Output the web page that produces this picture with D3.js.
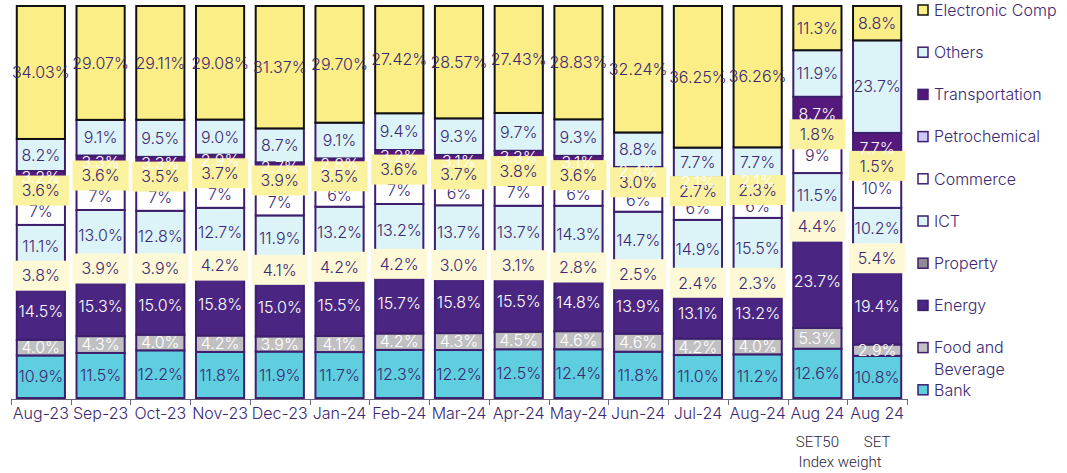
<!DOCTYPE html>
<html>
<head>
<meta charset="utf-8">
<script src="https://cdn.jsdelivr.net/npm/d3@7"></script>
<style>
  body { margin: 0; background: #fff; }
  svg { display: block; font-family: Inter, "Noto Sans", sans-serif; font-weight: 300; }
</style>
</head>
<body>
<svg id="chart" width="1067" height="473"></svg>
<script>
// sector weights per column, in %
const categories = ['Aug-23', 'Sep-23', 'Oct-23', 'Nov-23', 'Dec-23', 'Jan-24', 'Feb-24',
  'Mar-24', 'Apr-24', 'May-24', 'Jun-24', 'Jul-24', 'Aug-24', 'Aug 24 SET50', 'Aug 24 SET'];
const tickLabels = [['Aug-23'], ['Sep-23'], ['Oct-23'], ['Nov-23'], ['Dec-23'], ['Jan-24'], ['Feb-24'],
  ['Mar-24'], ['Apr-24'], ['May-24'], ['Jun-24'], ['Jul-24'], ['Aug-24'], ['Aug 24', 'SET50'], ['Aug 24', 'SET']];
const indexCols = ['Aug 24 SET50', 'Aug 24 SET'];
const footNote = 'Index weight';

const bank           = [10.9, 11.5, 12.2, 11.8, 11.9, 11.7, 12.3, 12.2, 12.5, 12.4, 11.8, 11.0, 11.2, 12.6, 10.8];
const foodBeverage   = [4.0, 4.3, 4.0, 4.2, 3.9, 4.1, 4.2, 4.3, 4.5, 4.6, 4.6, 4.2, 4.0, 5.3, 2.9];
const energy         = [14.5, 15.3, 15.0, 15.8, 15.0, 15.5, 15.7, 15.8, 15.5, 14.8, 13.9, 13.1, 13.2, 23.7, 19.4];
const property       = [3.8, 3.9, 3.9, 4.2, 4.1, 4.2, 4.2, 3.0, 3.1, 2.8, 2.5, 2.4, 2.3, 4.4, 5.4];
const ict            = [11.1, 13.0, 12.8, 12.7, 11.9, 13.2, 13.2, 13.7, 13.7, 14.3, 14.7, 14.9, 15.5, 11.5, 10.2];
const commerce       = [7, 7, 7, 7, 7, 6, 7, 6, 7, 6, 6, 6, 6, 9, 10];
const petrochemical  = [3.6, 3.6, 3.5, 3.7, 3.9, 3.5, 3.6, 3.7, 3.8, 3.6, 3.0, 2.7, 2.3, 1.8, 1.5];
const transportation = [3.2, 3.3, 3.3, 2.9, 2.7, 2.8, 3.2, 3.1, 3.3, 3.1, 2.4, 2.1, 2.1, 8.7, 7.7];
const others         = [8.2, 9.1, 9.5, 9.0, 8.7, 9.1, 9.4, 9.3, 9.7, 9.3, 8.8, 7.7, 7.7, 11.9, 23.7];
const electronic     = [34.03, 29.07, 29.11, 29.08, 31.37, 29.70, 27.42, 28.57, 27.43, 28.83, 32.24, 36.25, 36.26, 11.3, 8.8];

// bottom to top
const sectors = [
  { key: 'Bank', values: bank, fill: '#5fcfe0', stroke: '#3d1f6e', text: '#3b2873' },
  { key: 'Food and Beverage', values: foodBeverage, fill: '#c0bfc2', stroke: '#3d1f6e', text: '#fff' },
  { key: 'Energy', values: energy, fill: '#4a2682', stroke: '#3d1f6e', text: '#fff' },
  { key: 'Property', values: property, fill: '#8e8c91', stroke: '#3d1f6e', text: '#3b2873', box: '#fdf8d6' },
  { key: 'ICT', values: ict, fill: '#dcf4f7', stroke: '#3d1f6e', text: '#3b2873' },
  { key: 'Commerce', values: commerce, fill: '#ffffff', stroke: '#3d1f6e', text: '#3b2873' },
  { key: 'Petrochemical', values: petrochemical, fill: '#cbc8f6', stroke: '#3d1f6e', text: '#3b2873', box: '#fbf29f' },
  { key: 'Transportation', values: transportation, fill: '#55197c', stroke: '#3d1f6e', text: '#fff' },
  { key: 'Others', values: others, fill: '#dcf4f7', stroke: '#3d1f6e', text: '#3b2873' },
  { key: 'Electronic Comp', values: electronic, fill: '#fbee86', stroke: '#111', text: '#3b2873' }
];

const rows = categories.map((c, i) => {
  const r = { cat: c };
  sectors.forEach(s => { r[s.key] = s.values[i]; });
  return r;
});

const series = d3.stack()
  .keys(sectors.map(s => s.key))
  .offset(d3.stackOffsetExpand)(rows);

const svg = d3.select('#chart');
const x = d3.scaleBand().domain(categories).range([11, 907]).paddingInner(0.16).paddingOuter(0.08);
const y = d3.scaleLinear().domain([0, 1]).range([398, 6]);

const fmt = (key, v, cat) => {
  if (key === 'Commerce') return v.toFixed(0) + '%';
  if (key === 'Electronic Comp' && !indexCols.includes(cat)) return v.toFixed(2) + '%';
  return v.toFixed(1) + '%';
};

// segments
const groups = svg.append('g').selectAll('g')
  .data(series)
  .join('g')
  .attr('fill', (d, i) => sectors[i].fill)
  .attr('stroke', (d, i) => sectors[i].stroke)
  .attr('stroke-width', 2);

groups.selectAll('rect')
  .data(d => d)
  .join('rect')
  .attr('x', d => x(d.data.cat) + 1)
  .attr('width', x.bandwidth() - 2)
  .attr('y', d => y(d[1]))
  .attr('height', d => y(d[0]) - y(d[1]));

const labelLayer = svg.append('g')
  .attr('font-size', 16)
  .attr('text-anchor', 'middle');

function drawLabels(idx) {
  const s = sectors[idx];
  const g = labelLayer.append('g');
  series[idx].forEach(d => {
    const cx = x(d.data.cat) + x.bandwidth() / 2;
    const cy = (y(d[0]) + y(d[1])) / 2;
    if (s.box) {
      g.append('rect')
        .attr('x', x(d.data.cat) - 3)
        .attr('width', x.bandwidth() + 6)
        .attr('y', cy - 15)
        .attr('height', 30)
        .attr('fill', s.box);
    }
    g.append('text')
      .attr('x', cx)
      .attr('y', cy)
      .attr('dy', '0.36em')
      .attr('fill', s.text)
      .text(fmt(s.key, d.data[s.key], d.data.cat));
  });
}

// plain labels first, boxed ones over them, transport text on top
[0, 1, 2, 4, 5, 8, 9].forEach(drawLabels);
[3, 6].forEach(drawLabels);
drawLabels(7);

// x axis
const axis = svg.append('g').attr('stroke', '#6d6480').attr('stroke-width', 1);
axis.append('line')
  .attr('x1', 11).attr('x2', 907)
  .attr('y1', 399.5).attr('y2', 399.5);
const bounds = categories.map(c => x(c) - x.step() * x.paddingInner() / 2);
bounds.push(907);
bounds[0] = 11;
axis.selectAll('line.tick')
  .data(bounds)
  .join('line')
  .attr('class', 'tick')
  .attr('x1', d => Math.round(d) + 0.5).attr('x2', d => Math.round(d) + 0.5)
  .attr('y1', 399).attr('y2', 405);

const tickG = svg.append('g')
  .attr('text-anchor', 'middle');
categories.forEach((c, i) => {
  const cx = x(c) + x.bandwidth() / 2;
  tickLabels[i].forEach((t, j) => {
    tickG.append('text')
      .attr('x', cx)
      .attr('y', 419 + j * 28)
      .attr('fill', j === 0 ? '#3b2873' : '#2a2438')
      .attr('font-family', j === 0 ? null : 'Roboto, sans-serif')
      .attr('font-size', j === 0 ? 16 : 15)
      .text(t);
  });
});
svg.append('text')
  .attr('x', 840)
  .attr('y', 467)
  .attr('text-anchor', 'middle')
  .attr('font-family', 'Roboto, sans-serif')
  .attr('font-size', 15)
  .attr('fill', '#2a2438')
  .text(footNote);

// legend, top to bottom
const legendItems = sectors.slice().reverse();
const legend = svg.append('g').attr('font-size', 16).attr('fill', '#3b2873');
legendItems.forEach((s, i) => {
  const cy = 10 + i * 42.2;
  legend.append('rect')
    .attr('x', 918).attr('y', cy - 5)
    .attr('width', 10).attr('height', 10)
    .attr('fill', s.fill)
    .attr('stroke', s.key === 'Electronic Comp' ? '#111' : '#3d1f6e')
    .attr('stroke-width', 1.5);
  const lines = s.key === 'Food and Beverage' ? ['Food and', 'Beverage'] : [s.key];
  lines.forEach((t, j) => {
    legend.append('text')
      .attr('x', 934)
      .attr('y', cy + j * 22)
      .attr('dy', '0.36em')
      .text(t);
  });
});
</script>
</body>
</html>
